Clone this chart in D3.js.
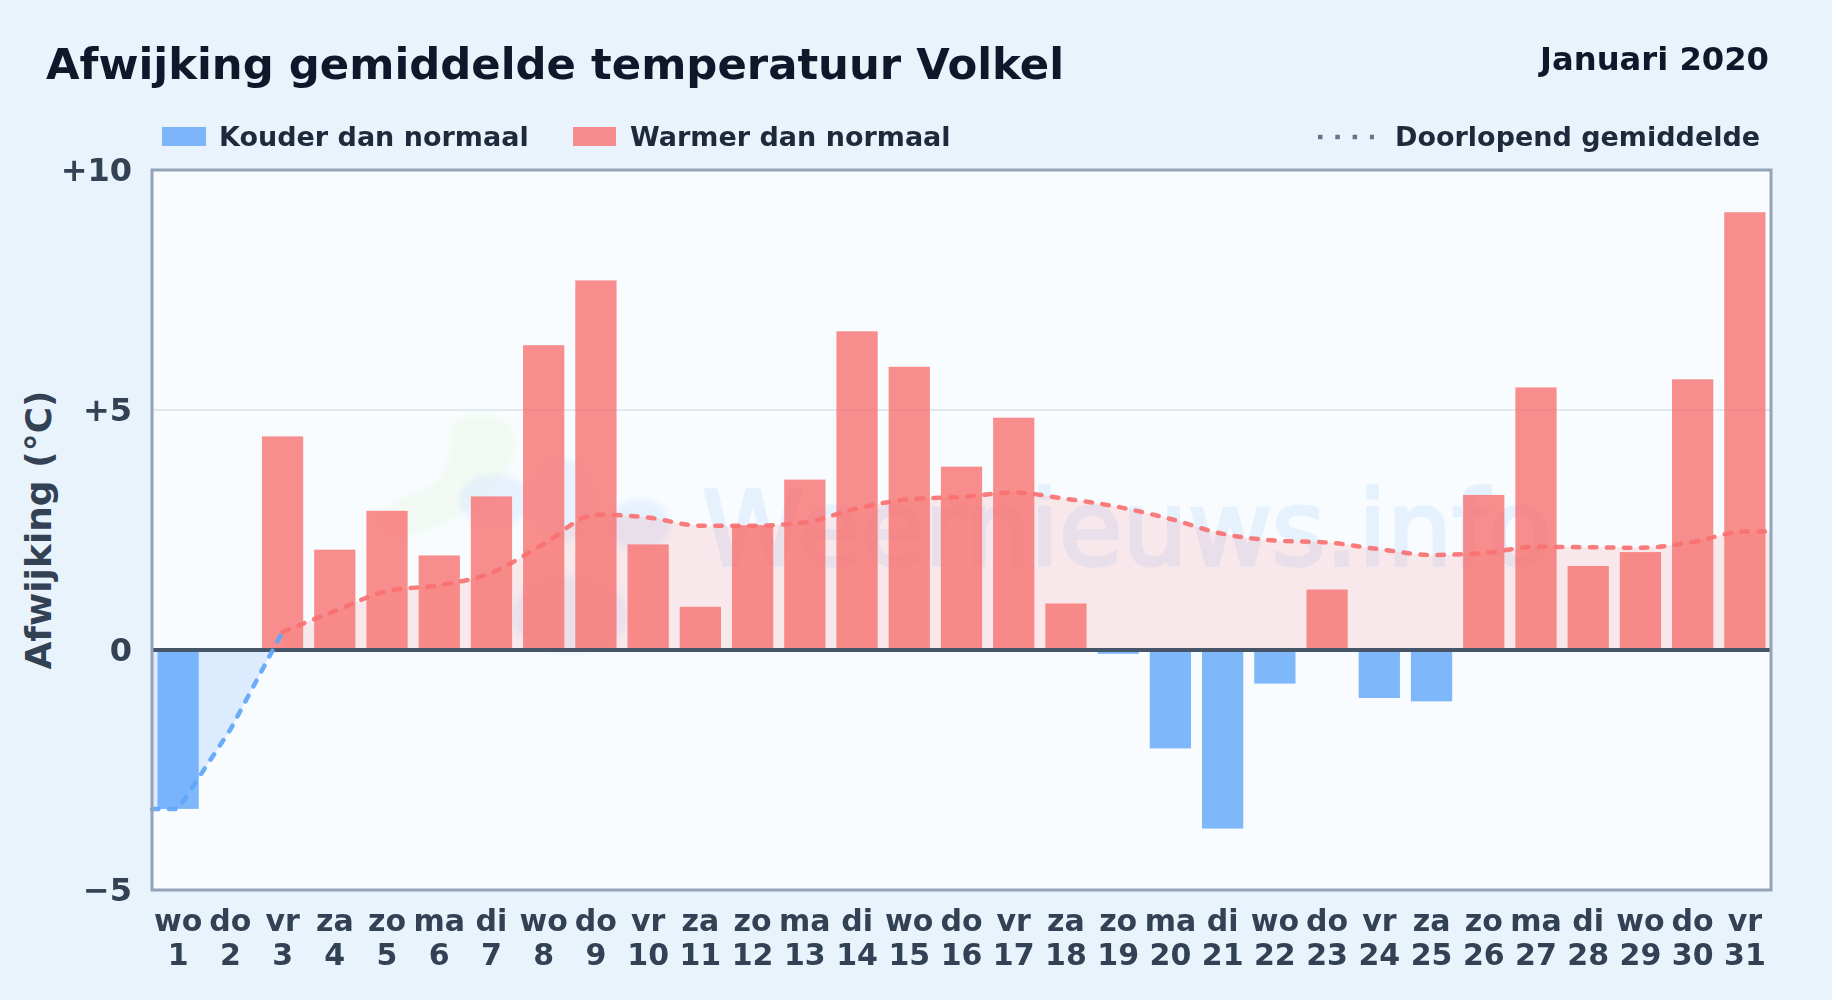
<!DOCTYPE html>
<html lang="nl">
<head>
<meta charset="UTF-8">
<title>Afwijking gemiddelde temperatuur Volkel</title>
<script src="https://d3js.org/d3.v7.min.js"></script>
<style>
    body { margin: 0; background: #e9f3fc; }
    svg { display: block; font-family: "DejaVu Sans", sans-serif; font-weight: 700; }
</style>
</head>
<body>
<div id="chart"></div>
<script>
    // data
    const days = d3.range(1, 32);
    const weekdays = ["wo","do","vr","za","zo","ma","di","wo","do","vr","za","zo","ma","di","wo","do","vr","za","zo","ma","di","wo","do","vr","za","zo","ma","di","wo","do","vr"];
    const anomaly = [-3.31,0,4.45,2.09,2.9,1.97,3.2,6.35,7.7,2.2,0.9,2.6,3.55,6.64,5.9,3.82,4.84,0.97,-0.08,-2.05,-3.72,-0.7,1.26,-1.0,-1.07,3.23,5.47,1.75,2.04,5.64,9.12];
    const runningMean = [-3.31,-1.66,0.38,0.81,1.23,1.35,1.61,2.21,2.82,2.76,2.59,2.59,2.66,2.95,3.14,3.19,3.28,3.15,2.98,2.73,2.42,2.28,2.24,2.10,1.98,2.02,2.15,2.14,2.13,2.25,2.47];
    const yTicks = [10, 5, 0, -5];
    const yTickLabels = ["+10", "+5", "0", "\u22125"];

    const width = 1832, height = 1000;
    const plot = { left: 152, right: 1771, top: 170, bottom: 890 };
    const cold = "#60a5fa", warm = "#f87171";

    const svg = d3.select("#chart").append("svg")
        .attr("width", width)
        .attr("height", height);

    const x = d3.scaleBand().domain(days).range([plot.left, plot.right]).paddingInner(0.21).paddingOuter(0.105);
    const y = d3.scaleLinear().domain([-5, 10]).range([plot.bottom, plot.top]);
    const cx = d => x(d) + x.bandwidth() / 2;

    // achtergrond
    svg.append("rect").attr("width", width).attr("height", height).attr("fill", "#e9f3fc");
    svg.append("rect")
        .attr("x", plot.left).attr("y", plot.top)
        .attr("width", plot.right - plot.left).attr("height", plot.bottom - plot.top)
        .attr("fill", "#f8fcff");

    // watermerk
    const defs = svg.append("defs");
    defs.append("filter").attr("id", "soft").append("feGaussianBlur").attr("stdDeviation", 3);
    const mark = svg.append("g").attr("filter", "url(#soft)");
    mark.append("path")
        .attr("d", "M450 425 Q480 405 510 425 Q525 450 500 480 Q480 510 440 525 Q400 545 382 530 Q375 505 420 490 Q455 480 450 425Z")
        .attr("fill", "#eef8e8").attr("opacity", 0.5);
    mark.append("ellipse").attr("cx", 495).attr("cy", 500).attr("rx", 36).attr("ry", 26).attr("fill", "#dbeafe").attr("opacity", 0.55);
    mark.append("ellipse").attr("cx", 563).attr("cy", 500).attr("rx", 28).attr("ry", 42).attr("fill", "#dbeafe").attr("opacity", 0.55);
    mark.append("ellipse").attr("cx", 640).attr("cy", 525).attr("rx", 30).attr("ry", 26).attr("fill", "#dbeafe").attr("opacity", 0.6);
    mark.append("ellipse").attr("cx", 570).attr("cy", 615).attr("rx", 58).attr("ry", 38).attr("fill", "#dbeafe").attr("opacity", 0.55);
    svg.append("text")
        .attr("x", 702).attr("y", 565)
        .attr("font-size", 103).attr("font-weight", 400)
        .attr("fill", "#bfdbfe").attr("stroke", "#bfdbfe").attr("stroke-width", 3.5)
        .attr("opacity", 0.3)
        .text("Weernieuws.info");

    // hulplijn +5
    svg.append("line")
        .attr("x1", plot.left).attr("x2", plot.right)
        .attr("y1", y(5)).attr("y2", y(5))
        .attr("stroke", "#e2e8f0").attr("stroke-width", 2);

    // lijn en vlak lopen door tot de rand van het plotvlak
    const linePoints = [[plot.left, runningMean[0]]]
        .concat(days.map((d, i) => [cx(d), runningMean[i]]))
        .concat([[plot.right, runningMean[30]]]);
    const coldPoints = linePoints.slice(0, 4);   // t/m dag 3
    const warmPoints = linePoints.slice(3);

    const clip = (id, x0, y0, x1, y1) => defs.append("clipPath").attr("id", id).append("rect")
        .attr("x", x0).attr("y", y0).attr("width", x1 - x0).attr("height", y1 - y0);
    clip("belowZero", plot.left, y(0), plot.right, plot.bottom);

    const area = d3.area().x(d => d[0]).y0(y(0)).y1(d => y(d[1]));
    svg.append("path").datum(warmPoints).attr("d", area.curve(d3.curveMonotoneX)).attr("fill", warm).attr("opacity", 0.14);
    svg.append("path").datum(coldPoints).attr("d", area.curve(d3.curveLinear)).attr("fill", cold).attr("opacity", 0.18).attr("clip-path", "url(#belowZero)");

    // staven
    svg.append("g").selectAll("rect")
        .data(days.filter((d, i) => anomaly[i] !== 0))
        .join("rect")
        .attr("x", d => x(d))
        .attr("width", x.bandwidth())
        .attr("y", d => y(Math.max(0, anomaly[d - 1])))
        .attr("height", d => Math.abs(y(anomaly[d - 1]) - y(0)))
        .attr("fill", d => anomaly[d - 1] < 0 ? cold : warm)
        .attr("fill-opacity", 0.8);

    // nullijn
    svg.append("line")
        .attr("x1", plot.left).attr("x2", plot.right)
        .attr("y1", y(0)).attr("y2", y(0))
        .attr("stroke", "#475569").attr("stroke-width", 4);

    // doorlopend gemiddelde
    const line = d3.line().x(d => d[0]).y(d => y(d[1]));
    const drawLine = (points, curve, color) => svg.append("path").datum(points)
        .attr("d", line.curve(curve))
        .attr("fill", "none")
        .attr("stroke", color)
        .attr("stroke-width", 4.5)
        .attr("stroke-opacity", 0.92)
        .attr("stroke-dasharray", "6.5 10.5")
        .attr("stroke-linecap", "round");
    drawLine(coldPoints, d3.curveLinear, cold);
    drawLine(warmPoints, d3.curveMonotoneX, warm);

    // kader
    svg.append("rect")
        .attr("x", plot.left).attr("y", plot.top)
        .attr("width", plot.right - plot.left).attr("height", plot.bottom - plot.top)
        .attr("fill", "none").attr("stroke", "#94a3b8").attr("stroke-width", 3);

    // assen
    const yAxis = svg.append("g")
        .attr("transform", `translate(${plot.left},0)`)
        .call(d3.axisLeft(y).tickValues(yTicks).tickSize(0).tickPadding(20).tickFormat((d, i) => yTickLabels[i]));
    yAxis.select(".domain").remove();
    yAxis.selectAll("text").attr("font-family", "DejaVu Sans").attr("font-size", 32).attr("font-weight", 700).attr("fill", "#334155");

    const xAxis = svg.append("g")
        .attr("transform", `translate(0,${plot.bottom})`)
        .call(d3.axisBottom(x).tickSize(0).tickFormat(""));
    xAxis.select(".domain").remove();
    xAxis.selectAll("text").each(function (d, i) {
        const t = d3.select(this).attr("y", 40).attr("dy", null)
            .attr("font-family", "DejaVu Sans").attr("font-size", 30).attr("font-weight", 700).attr("fill", "#334155");
        t.append("tspan").attr("x", 0).attr("y", 40.5).text(weekdays[i]);
        t.append("tspan").attr("x", 0).attr("y", 74.5).text(days[i]);
    });

    svg.append("text")
        .attr("transform", `translate(51,${(plot.top + plot.bottom) / 2}) rotate(-90)`)
        .attr("text-anchor", "middle")
        .attr("font-size", 36).attr("fill", "#334155")
        .text("Afwijking (\u00b0C)");

    // titels
    svg.append("text").attr("x", 46).attr("y", 79).attr("font-size", 43.35).attr("fill", "#0f172a")
        .text("Afwijking gemiddelde temperatuur Volkel");
    svg.append("text").attr("x", 1769).attr("y", 70).attr("text-anchor", "end").attr("font-size", 32.2).attr("fill", "#0f172a")
        .text("Januari 2020");

    // legenda
    const legend = svg.append("g").attr("font-size", 27).attr("fill", "#1e293b");
    legend.append("rect").attr("x", 162).attr("y", 127).attr("width", 44).attr("height", 19).attr("fill", cold).attr("fill-opacity", 0.8);
    legend.append("text").attr("x", 219).attr("y", 146).text("Kouder dan normaal");
    legend.append("rect").attr("x", 573).attr("y", 127).attr("width", 43).attr("height", 19).attr("fill", warm).attr("fill-opacity", 0.8);
    legend.append("text").attr("x", 630).attr("y", 146).text("Warmer dan normaal");
    legend.append("line").attr("x1", 1318).attr("x2", 1374).attr("y1", 137).attr("y2", 137)
        .attr("stroke", "#64748b").attr("stroke-width", 4.5).attr("stroke-dasharray", "4.5 12.8");
    legend.append("text").attr("x", 1395).attr("y", 146).text("Doorlopend gemiddelde");
</script>
</body>
</html>
